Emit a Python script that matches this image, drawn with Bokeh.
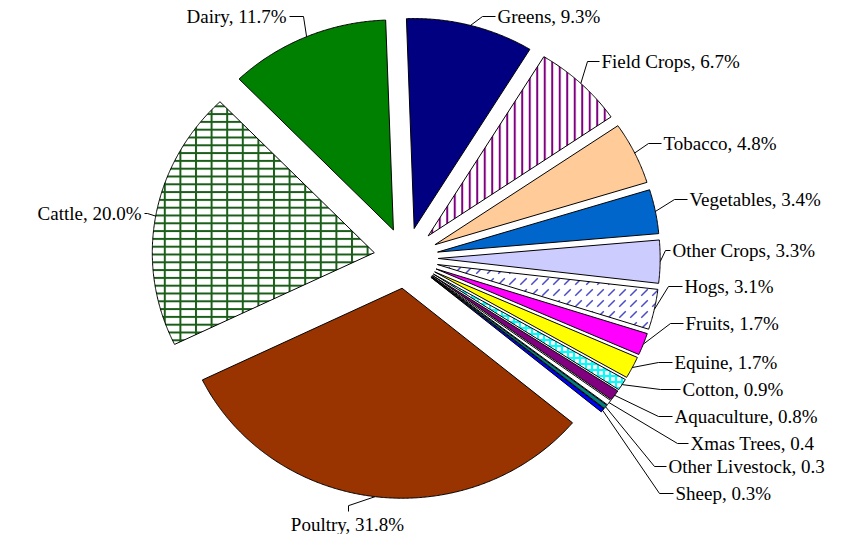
import numpy as np
from bokeh.plotting import figure
from bokeh.models import ColumnDataSource, Range1d
from bokeh.core.properties import value
from bokeh.embed import file_html
from bokeh.resources import INLINE

# ---------------- data ----------------
categories = ["Greens", "Field Crops", "Tobacco", "Vegetables", "Other Crops", "Hogs",
              "Fruits", "Equine", "Cotton", "Aquaculture", "Xmas Trees",
              "Other Livestock", "Sheep", "Poultry", "Cattle", "Dairy"]
values = [9.3, 6.7, 4.8, 3.4, 3.3, 3.1, 1.7, 1.7, 0.9, 0.8, 0.4, 0.3, 0.3, 31.8, 20.0, 11.7]
label_texts = ["Greens, 9.3%", "Field Crops, 6.7%", "Tobacco, 4.8%", "Vegetables, 3.4%",
               "Other Crops, 3.3%", "Hogs, 3.1%", "Fruits, 1.7%", "Equine, 1.7%",
               "Cotton, 0.9%", "Aquaculture, 0.8%", "Xmas Trees, 0.4",
               "Other Livestock, 0.3", "Sheep, 0.3%", "Poultry, 31.8%",
               "Cattle, 20.0%", "Dairy, 11.7%"]

# ---------------- styles ----------------
fill_colors = ["#000080", "#FFFFFF", "#FFCC99", "#0066CC", "#CCCCFF", "#FFFFFF",
               "#FF00FF", "#FFFF00", "#FFFFFF", "#800080", "#FFFFFF",
               "#008080", "#0000FF", "#993300", "#FFFFFF", "#008000"]
hatch_patterns = [" ", "|", " ", " ", " ", ",", " ", " ", "+", " ", " ",
                  " ", " ", " ", "-", " "]
hatch_patterns2 = [" "] * 14 + ["|", " "]
hatch_colors = ["#000000", "#800080", "#000000", "#000000", "#000000", "#4B4BC8",
                "#000000", "#000000", "#00FFFF", "#000000", "#000000",
                "#000000", "#000000", "#000000", "#1A5E1A", "#000000"]
hatch_scales = [6, 7.5, 6, 6, 6, 11, 6, 6, 6, 6, 6, 6, 6, 6, 7.8, 6]
hatch_scales2 = [6] * 14 + [15.6, 6]
hatch_weights = [1, 2, 1, 1, 1, 1.5, 1, 1, 2, 1, 1, 1, 1, 1, 2, 1]

# label layout (picture pixel positions): text x, text y, align, elbow x
lab_x = [497, 601, 663, 689, 672, 684, 685, 674, 682, 674, 690, 668, 675, 347, 141, 286]
lab_y = [16, 61, 143, 199, 250, 286, 323, 362, 389, 416, 443, 466, 493, 524, 213, 16]
lab_align = ["left"] * 13 + ["center", "right", "right"]
elbow_x = [482, 587, 648, 674, 665, 668, 670, 658, 660, 658, 677, 654, 659, 348, 147, 303]

# pie geometry (picture pixel units)
start_deg = -2.0
cx, cy = 405.5, 257.5
rx, ry = 222.0, 210.0
explode = 0.145

total = float(sum(values))
xs, ys, anchors = [], [], []
cum = 0.0
for v in values:
    a0 = np.radians(start_deg + 360.0 * cum / total)
    cum += v
    a1 = np.radians(start_deg + 360.0 * cum / total)
    am = 0.5 * (a0 + a1)
    ox = cx + explode * rx * np.sin(am)
    oy = cy - explode * ry * np.cos(am)
    n = max(4, int(np.degrees(a1 - a0) * 3))
    t = np.linspace(a0, a1, n)
    xs.append(list(np.concatenate([[ox], ox + rx * np.sin(t), [ox]])))
    ys.append(list(np.concatenate([[oy], oy - ry * np.cos(t), [oy]])))
    anchors.append((ox + rx * np.sin(am), oy - ry * np.cos(am)))

src = ColumnDataSource(dict(xs=xs, ys=ys, fill=fill_colors, hatch=hatch_patterns,
                            hatch2=hatch_patterns2, hcolor=hatch_colors,
                            hscale=hatch_scales, hscale2=hatch_scales2,
                            hweight=hatch_weights, name=categories, val=values))

W, H = 826, 534
p = figure(width=W, height=H, x_range=Range1d(0, W), y_range=Range1d(H, 0),
           output_backend="svg", toolbar_location=None, x_axis_type=None, y_axis_type=None,
           min_border=0, outline_line_color=None, background_fill_color="white")
p.grid.visible = False

p.patches("xs", "ys", source=src, fill_color="fill", line_color=None,
          hatch_pattern="hatch", hatch_color="hcolor", hatch_scale="hscale",
          hatch_weight="hweight")
p.patches("xs", "ys", source=src, fill_alpha=0, line_color="black", line_width=1,
          hatch_pattern="hatch2", hatch_color="hcolor", hatch_scale="hscale2",
          hatch_weight="hweight")

# leader lines
lx, ly = [], []
for i, (ax, ay) in enumerate(anchors):
    if lab_align[i] == "center":
        lx.append([ax, elbow_x[i], elbow_x[i]])
        ly.append([ay, ay + 9, lab_y[i] - 13])
    elif lab_align[i] == "left":
        lx.append([ax, elbow_x[i], lab_x[i] - 2])
        ly.append([ay, lab_y[i], lab_y[i]])
    else:
        lx.append([ax, elbow_x[i], lab_x[i] + 3])
        ly.append([ay, lab_y[i], lab_y[i]])
p.multi_line(lx, ly, line_color="black", line_width=1)

lsrc = ColumnDataSource(dict(x=lab_x, y=lab_y, text=label_texts, align=lab_align))
p.text("x", "y", text="text", source=lsrc, text_align="align", text_baseline="middle",
       text_font=value("Liberation Serif"), text_font_size="19px", text_color="black")

open("out.html", "w").write(file_html(p, INLINE))
